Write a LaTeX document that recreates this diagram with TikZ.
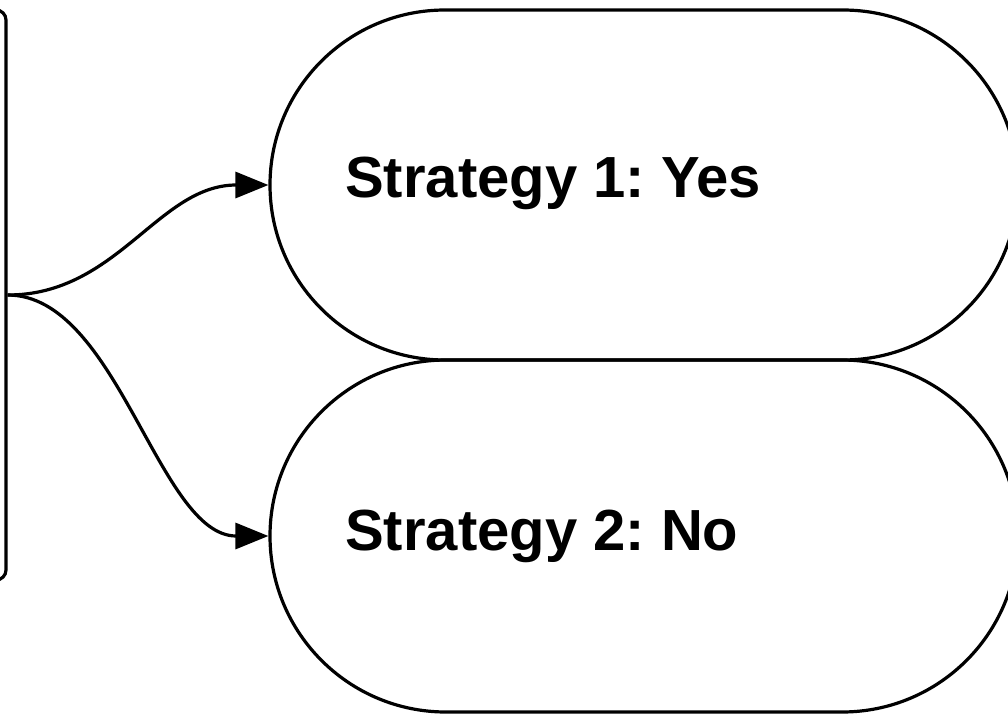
\documentclass[tikz,border=0pt]{standalone}
\usepackage{fontspec}
\setmainfont{Liberation Sans}
\usetikzlibrary{shapes.misc,arrows.meta}
\frenchspacing
\begin{document}
\begin{tikzpicture}[x=1pt,y=1pt,
  stadium/.style={draw,line width=3.2pt,rounded rectangle,inner sep=0pt,minimum width=748pt},
  srcbox/.style={draw,line width=3.2pt,rounded corners=10pt,inner sep=0pt,minimum width=300pt,minimum height=570pt},
  label/.style={anchor=base west,inner sep=0pt,font=\fontsize{58}{60}\selectfont\bfseries},
  arr/.style={line width=3.2pt,-{Triangle[length=33pt,width=26pt]}}]
\useasboundingbox (0,0) rectangle (1008,-716);
\begin{scope}
\clip (0,0) rectangle (1008,-716);
\node[srcbox] (src) at (-144,-295) {};
\node[stadium,minimum height=350pt] (s1) at (644,-185) {};
\node[stadium,minimum height=352pt] (s2) at (644,-536) {};
\node[label] (t1) at (345,-197) {Strategy 1: Yes};
\node[label] (t2) at (345,-550) {Strategy 2: No};
\draw[arr] (src.east) .. controls +(110,0) and +(-110,0) .. (s1.west);
\draw[arr] (src.east) .. controls +(110,0) and +(-110,0) .. (s2.west);
\end{scope}
\end{tikzpicture}
\end{document}
